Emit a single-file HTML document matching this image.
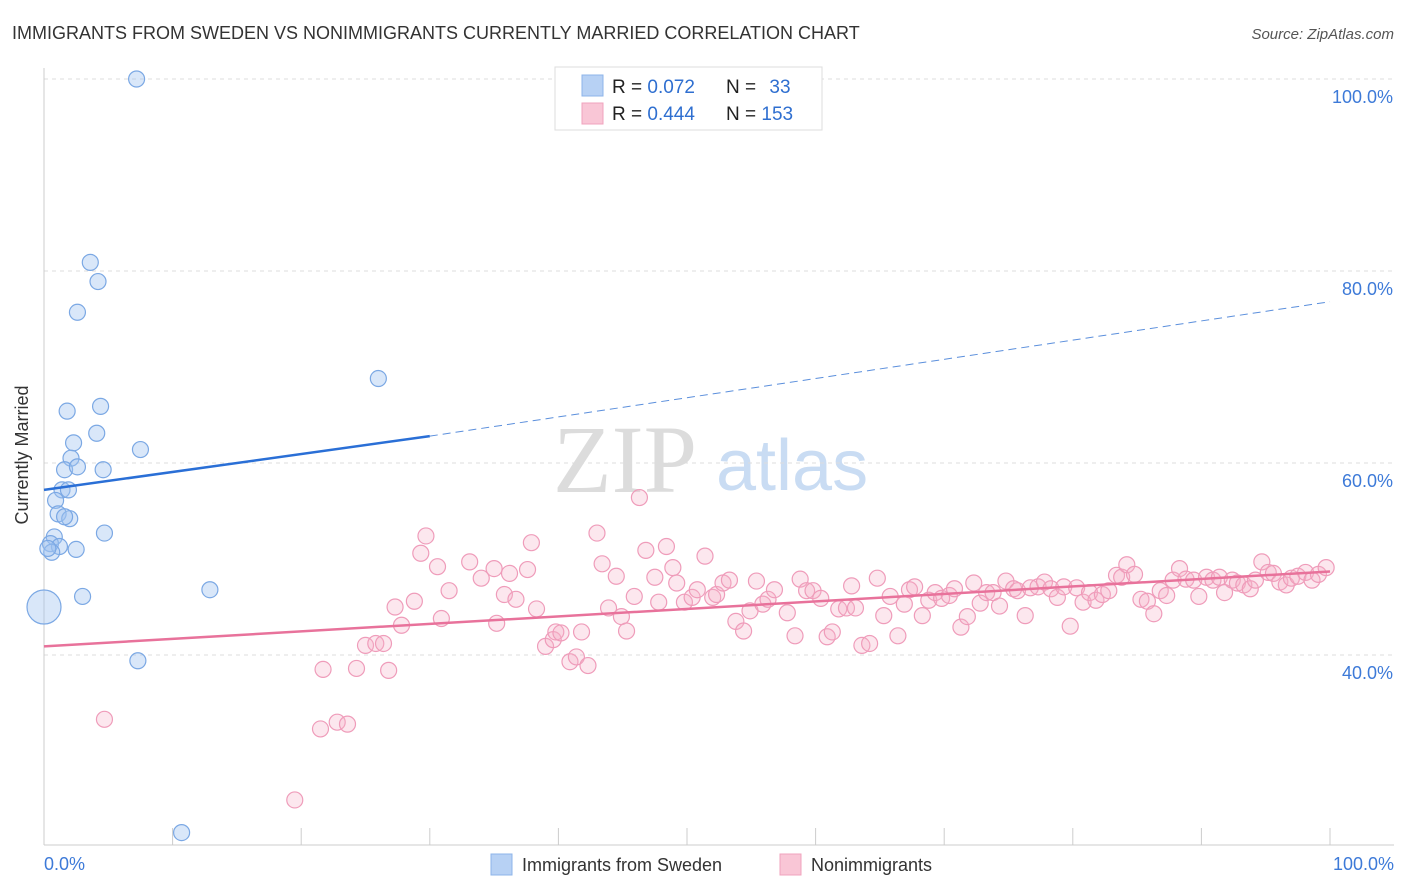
<!DOCTYPE html>
<html><head><meta charset="utf-8"><style>
body{margin:0;background:#fff;font-family:"Liberation Sans",sans-serif;}
svg{display:block}
</style></head><body>
<svg id="chart" width="1406" height="892">
<text x="12" y="39" font-size="18" fill="#333">IMMIGRANTS FROM SWEDEN VS NONIMMIGRANTS CURRENTLY MARRIED CORRELATION CHART</text>
<text x="1394" y="39" font-size="15" fill="#555" font-style="italic" text-anchor="end">Source: ZipAtlas.com</text>
<g>
<text x="553" y="492" font-size="96" font-family="Liberation Serif,serif" fill="#dcdcdc">ZIP</text>
<text x="716" y="490" font-size="72" fill="#c9dcf3">atlas</text>
</g>
<g id="grid"></g>
<text x="28" y="455" font-size="18" fill="#333" text-anchor="middle" transform="rotate(-90 28 455)">Currently Married</text>
<g id="marks"></g>
<g>
<rect x="555" y="67" width="267" height="63" fill="#fff" stroke="#ddd"/>
<rect x="582" y="75" width="21" height="21" fill="#b7d1f4" stroke="#8db4ea"/>
<rect x="582" y="103" width="21" height="21" fill="#f9c6d6" stroke="#f0a3bd"/>
<text x="612" y="93" font-size="19" fill="#222">R = <tspan fill="#2f6fd0">0.072</tspan></text>
<text x="726" y="93" font-size="19" fill="#222">N = <tspan fill="#2f6fd0" dx="8">33</tspan></text>
<text x="612" y="120" font-size="19" fill="#222">R = <tspan fill="#2f6fd0">0.444</tspan></text>
<text x="726" y="120" font-size="19" fill="#222">N = <tspan fill="#2f6fd0">153</tspan></text>
</g>
<g>
<rect x="491" y="854" width="21" height="21" fill="#b7d1f4" stroke="#8db4ea"/>
<text x="522" y="871" font-size="18" fill="#333">Immigrants from Sweden</text>
<rect x="780" y="854" width="21" height="21" fill="#f9c6d6" stroke="#f0a3bd"/>
<text x="811" y="871" font-size="18" fill="#333">Nonimmigrants</text>
</g>
</svg>
<script>
const yTicks=[40,60,80,100];
const yTickLabels=["40.0%","60.0%","80.0%","100.0%"];
const xTickVals=[0,10,20,30,40,50,60,70,80,90,100];
const blueX=[7.2,3.6,4.2,2.6,26.0,1.8,4.4,4.1,2.3,7.5,2.1,1.6,2.6,4.6,1.4,1.9,0.9,1.1,2.0,1.6,4.7,0.8,0.5,1.2,2.5,0.6,0.0,3.0,12.9,7.3,10.7,0.3];
const blueY=[100,80.9,78.9,75.7,68.8,65.4,65.9,63.1,62.1,61.4,60.5,59.3,59.6,59.3,57.2,57.2,56.1,54.7,54.2,54.4,52.7,52.3,51.6,51.3,51.0,50.7,45.0,46.1,46.8,39.4,21.5,51.1];
const pinkX=[4.7,19.5,21.5,22.8,23.6,21.7,24.3,26.8,25.0,25.8,26.4,27.3,27.8,28.8,29.3,29.7,30.6,30.9,31.5,33.1,34.0,35.0,35.2,35.8,36.2,36.7,37.6,37.9,38.3,39.0,39.6,39.8,40.2,40.9,41.4,42.3,41.8,43.0,43.4,43.9,44.5,44.9,45.3,45.9,46.3,46.8,47.5,47.8,48.4,48.9,49.2,49.8,50.4,50.8,51.4,52.0,52.3,52.8,53.3,53.8,54.4,54.9,55.4,55.9,56.3,56.8,57.8,58.4,58.8,59.3,59.8,60.4,60.9,61.3,61.8,62.4,62.8,63.1,63.6,64.2,64.8,65.3,65.8,66.4,66.9,67.3,67.7,68.3,68.8,69.3,69.8,70.4,70.8,71.3,71.8,72.3,72.8,73.3,73.8,74.3,74.8,75.4,75.7,76.3,76.7,77.3,77.8,78.3,78.8,79.3,79.8,80.3,80.8,81.3,81.8,82.3,82.8,83.4,83.8,84.2,84.8,85.3,85.8,86.3,86.8,87.3,87.8,88.3,88.8,89.4,89.8,90.4,90.9,91.4,91.8,92.4,92.8,93.3,93.8,94.2,94.7,95.2,95.6,96.1,96.6,97.0,97.5,98.1,98.6,99.1,99.7];
const pinkY=[33.3,24.9,32.3,33.0,32.8,38.5,38.6,38.4,41.0,41.2,41.2,45.0,43.1,45.6,50.6,52.4,49.2,43.8,46.7,49.7,48.0,49.0,43.3,46.3,48.5,45.8,48.9,51.7,44.8,40.9,41.6,42.4,42.3,39.3,39.8,38.9,42.4,52.7,49.5,44.9,48.2,44.0,42.5,46.1,56.4,50.9,48.1,45.5,51.3,49.1,47.5,45.5,46.0,46.8,50.3,46.0,46.3,47.5,47.8,43.5,42.5,44.6,47.7,45.3,45.8,46.8,44.4,42.0,47.9,46.7,46.7,45.9,41.9,42.4,44.8,44.9,47.2,44.9,41.0,41.2,48.0,44.1,46.1,42.0,45.3,46.8,47.1,44.1,45.7,46.5,45.9,46.2,46.9,42.9,44.0,47.5,45.4,46.5,46.5,45.1,47.7,46.9,46.7,44.1,47.0,47.1,47.6,46.9,46.0,47.1,43.0,47.0,45.5,46.5,45.7,46.3,46.7,48.3,48.1,49.4,48.4,45.8,45.6,44.3,46.7,46.2,47.8,49.0,47.9,47.8,46.1,48.1,47.8,48.1,46.5,47.8,47.5,47.3,46.9,47.8,49.7,48.6,48.5,47.6,47.3,48.0,48.2,48.6,47.8,48.4,49.1];
const blueTrend=[[0,57.2],[30,62.8],[100,76.8]];
const pinkTrend=[[0,40.9],[100,48.7]];

const NS="http://www.w3.org/2000/svg";
const X=v=>44+v*12.86;
const Y=v=>1039-v*9.6;
const grid=document.getElementById('grid'), marks=document.getElementById('marks');
function mk(tag,attrs,parent){const e=document.createElementNS(NS,tag);for(const k in attrs)e.setAttribute(k,attrs[k]);parent.appendChild(e);return e;}
yTicks.forEach((t,i)=>{
  const l=mk('line',{x1:44,x2:1394,y1:Y(t),y2:Y(t),stroke:'#ddd','stroke-dasharray':'4 4'},grid);
  
  
  const tx=mk('text',{x:1393,y:Y(t)+24,'font-size':18,fill:'#3d7ad8','text-anchor':'end'},grid);
  tx.textContent=yTickLabels[i];
  
  
});
const ax=mk('line',{x1:44,x2:1394,y1:845,y2:845,stroke:'#ccc'},grid);


const yax=mk('line',{x1:44,x2:44,y1:68,y2:845,stroke:'#ccc'},grid);


xTickVals.forEach(t=>{
  const l=mk('line',{x1:X(t),x2:X(t),y1:828,y2:845,stroke:'#ccc'},grid);
  
  
});
[[0,"0.0%","start",44],[100,"100.0%","end",1394]].forEach(a=>{
  const tx=mk('text',{x:a[3],y:870,'font-size':18,fill:'#3d7ad8','text-anchor':a[2]},grid);
  tx.textContent=a[1];
  
  
});
pinkX.forEach((x,i)=>{
  const c=mk('circle',{cx:X(x),cy:Y(pinkY[i]),r:8,fill:'rgba(246,176,200,0.3)',stroke:'#ef9cba','stroke-width':1.2},marks);
  
  
});
blueX.forEach((x,i)=>{
  const big=(x===0&&blueY[i]===45.0);
  const c=mk('circle',{cx:X(x),cy:Y(blueY[i]),r:big?17:8,fill:'rgba(160,196,240,0.4)',stroke:'#7ba8e4','stroke-width':1.2},marks);
  
  
});
const bt1=mk('line',{x1:X(blueTrend[0][0]),y1:Y(blueTrend[0][1]),x2:X(blueTrend[1][0]),y2:Y(blueTrend[1][1]),stroke:'#2a6fd6','stroke-width':2.5},marks);


const bt2=mk('line',{x1:X(blueTrend[1][0]),y1:Y(blueTrend[1][1]),x2:X(blueTrend[2][0]),y2:Y(blueTrend[2][1]),stroke:'#5b8fdc','stroke-width':1,'stroke-dasharray':'8 5'},marks);


const pt=mk('line',{x1:X(pinkTrend[0][0]),y1:Y(pinkTrend[0][1]),x2:X(pinkTrend[1][0]),y2:Y(pinkTrend[1][1]),stroke:'#e8729b','stroke-width':2.5},marks);


</script>
</body></html>
